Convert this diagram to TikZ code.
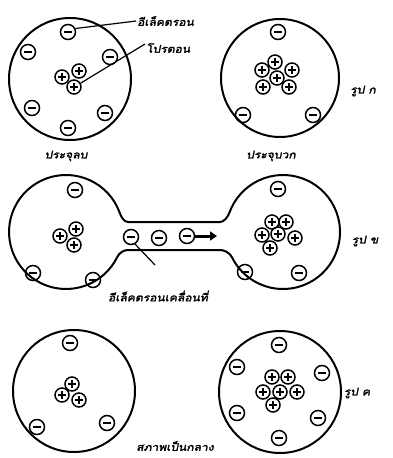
\documentclass[tikz,border=0pt]{standalone}
\usepackage{fontspec}
\newfontfamily\thai[Script=Thai,FakeBold=2.2,FakeSlant=0.2,FakeStretch=1.15]{Loma}
\usetikzlibrary{arrows.meta}
\begin{document}
\begin{tikzpicture}[x=1pt,y=-1pt,
  shell/.style={draw,line width=2pt},
  elec/.style={circle,draw,line width=1.5pt,minimum size=15pt,inner sep=0pt,
    path picture={\draw[line width=1.8pt]
      ([xshift=-3.6pt]path picture bounding box.center) --
      ([xshift=3.6pt]path picture bounding box.center);}},
  prot/.style={circle,draw,line width=1.5pt,minimum size=14pt,inner sep=0pt,
    path picture={\draw[line width=1.7pt]
      ([xshift=-3.6pt]path picture bounding box.center) --
      ([xshift=3.6pt]path picture bounding box.center)
      ([yshift=-3.6pt]path picture bounding box.center) --
      ([yshift=3.6pt]path picture bounding box.center);}},
  lbl/.style={inner sep=1pt,font=\thai\fontsize{10.5}{12}\selectfont},
  pointer/.style={line width=1.2pt}]
\useasboundingbox (0,0) rectangle (393,458);

% ---- row 1: negative ion (left) and positive ion (right)
\node[shell,circle,minimum size=122pt,inner sep=0pt] (shA) at (70,79) {};
\node[shell,circle,minimum size=118pt,inner sep=0pt] (shB) at (280,78) {};
\foreach \x/\y [count=\i] in {28/52,110/57,68/32,32/108,105/113,68/128}
  \node[elec] (ea\i) at (\x,\y) {};
\foreach \x/\y [count=\i] in {62/77,79/71,74/87}
  \node[prot] (pa\i) at (\x,\y) {};
\foreach \x/\y [count=\i] in {278/32,243/115,313/115}
  \node[elec] (eb\i) at (\x,\y) {};
\foreach \x/\y [count=\i] in {277/78,275/62,262/70,292/70,263/87,289/87}
  \node[prot] (pb\i) at (\x,\y) {};

\node[lbl,anchor=west] (lbE) at (136,21) {อีเล็คตรอน};
\node[lbl,anchor=west] (lbP) at (145,48) {โปรตอน};
\draw[pointer] (ea3.25) -- (lbE.west);
\draw[pointer] (pa3.30) -- ([yshift=4pt]lbP.west);
\node[lbl] (lbNeg) at (66,156) {ประจุลบ};
\node[lbl] (lbPos) at (271,156) {ประจุบวก};
\node[lbl] (figA) at (363,91) {รูป ก};

% ---- row 2: two ions joined by a channel
\draw[shell] (128,222) .. controls (124,222) and (121.3,217.2) .. (119.6,212.5)
  arc[start angle=-20,end angle=-334,radius=57]
  .. controls (119.4,252.5) and (124,250) .. (128,250)
  -- (220,250) .. controls (224,250) and (229.6,252.5) .. (231.8,257)
  arc[start angle=154,end angle=-160,radius=57]
  .. controls (227.7,217.2) and (224,222) .. (220,222) -- cycle;
\foreach \x/\y [count=\i] in {75/190,33/273,93/280}
  \node[elec] (ec\i) at (\x,\y) {};
\foreach \x/\y [count=\i] in {60/236,76/229,74/245}
  \node[prot] (pc\i) at (\x,\y) {};
\foreach \x/\y [count=\i] in {131/237,159/238,187/236}
  \node[elec] (en\i) at (\x,\y) {};
\foreach \x/\y [count=\i] in {278/189,245/272,299/273}
  \node[elec] (ed\i) at (\x,\y) {};
\foreach \x/\y [count=\i] in {272/222,286/222,262/235,278/234,295/238,270/248}
  \node[prot] (pd\i) at (\x,\y) {};
\coordinate (flowEnd) at (217,236);
\draw[line width=3pt,-{Triangle[length=7pt,width=9pt]}] (en3.east) -- (flowEnd);
\coordinate (tagEnd) at (155,265);
\draw[pointer] (en1.-60) -- (tagEnd);
\node[lbl] (lbMove) at (158,296) {อีเล็คตรอนเคลื่อนที่};
\node[lbl] (figB) at (365,241) {รูป ข};

% ---- row 3: both atoms neutral
\node[shell,circle,minimum size=122pt,inner sep=0pt] (shE) at (74,391) {};
\node[shell,circle,minimum size=122pt,inner sep=0pt] (shF) at (280,392) {};
\foreach \x/\y [count=\i] in {70/343,37/427,107/423}
  \node[elec] (ee\i) at (\x,\y) {};
\foreach \x/\y [count=\i] in {72/384,62/395,79/400}
  \node[prot] (pe\i) at (\x,\y) {};
\foreach \x/\y [count=\i] in {279/345,237/367,322/373,237/413,318/418,279/438}
  \node[elec] (ef\i) at (\x,\y) {};
\foreach \x/\y [count=\i] in {272/377,288/377,263/392,280/392,297/392,273/405}
  \node[prot] (pf\i) at (\x,\y) {};
\node[lbl] (lbNeu) at (175,446) {สภาพเป็นกลาง};
\node[lbl] (figC) at (357,393) {รูป ค};
\end{tikzpicture}
\end{document}
